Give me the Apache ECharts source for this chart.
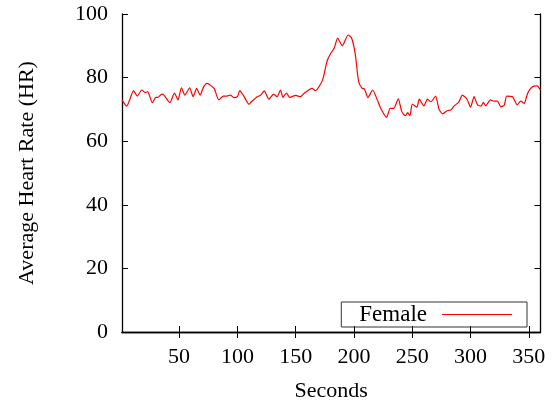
<!DOCTYPE html>
<html>
<head>
<meta charset="utf-8">
<script src="https://cdn.jsdelivr.net/npm/echarts@6/dist/echarts.min.js"></script>
<style>html,body{margin:0;padding:0;background:#fff;}#c{width:556px;height:400px;}</style>
</head>
<body>
<div id="c"></div>
<script>
const seconds = [1,5,11,14,18,21,23,27,30,32,35,37,42,46,49,52,55,59,62,65,68,71,74,80,84,88,91,94,97,100,102,105,110,112,117,120,123,127,131,134,137,139,142,145,150,154,158,164,167,173,177,180,183,186,190,195,198,201,204,207,209,212,216,220,223,228,231,234,238,241,244,246,248,250,254,256,260,263,266,270,273,276,280,283,286,290,293,297,300,303,306,309,311,313,317,320,323,326,329,331,336,340,343,346,349,353,357,360];
const femaleHR = [73,71,75.9,74.2,76.1,75.3,75.6,72.1,73.8,73.8,74.8,74.5,72.1,75.1,73,76.8,74.5,76.8,74,76.6,74.5,77.1,78.2,76.6,73,74.2,74.2,74.5,73.7,74,75.9,74.5,71.6,72.4,74,74.5,75.8,73.2,74.8,74,76.1,73.8,75.1,73.8,74.4,74,75.3,76.6,75.9,79.2,85.3,87.6,89.2,92.4,90,93.4,92.4,87.6,78.7,76.6,76.4,73.7,76.1,73,70.3,67.5,70.3,70.3,73.3,69.3,68,69,68,71.7,70.7,73.2,71.1,73.2,72.4,74.2,70,68.6,69.6,69.8,71.1,72.4,74.5,73.2,70.7,74,71.4,71,72.2,71.1,73,72.6,72.6,70.8,71.4,74.2,74,71.4,72.6,71.9,75.1,77.1,77.4,76.1];
const xTicks = [50,100,150,200,250,300,350];
const seriesName = 'Female';
const xName = 'Seconds';
const yName = 'Average Heart Rate (HR)';

const font = 'Liberation Serif, Times New Roman, serif';
const chart = echarts.init(document.getElementById('c'), null, {renderer:'canvas'});
const axisLineStyle = {color:'#000', width:1.3};
chart.setOption({
  animation:false,
  backgroundColor:'#fff',
  grid:{left:122, right:15.5, top:14, bottom:68, containLabel:false, outerBoundsMode:'none'},
  legend:{
    data:[{name:seriesName, icon:'rect'}], right:29, bottom:73, align:'right',
    itemWidth:70, itemHeight:1,
    borderColor:'#333', borderWidth:1, padding:[1,15,1,18],
    textStyle:{fontFamily:font, fontSize:23, color:'#000', padding:[0,10,0,0]}
  },
  xAxis:[{
    type:'value', min:1, max:360,
    name:xName, nameLocation:'middle', nameGap:48,
    nameTextStyle:{fontFamily:font, fontSize:22, color:'#000'},
    axisLine:{show:true, lineStyle:axisLineStyle},
    axisTick:{show:true, inside:true, length:6, customValues:xTicks, lineStyle:{color:'#000'}},
    axisLabel:{customValues:xTicks, fontFamily:font, fontSize:22, color:'#000', margin:14},
    splitLine:{show:false}
  },{
    type:'value', min:1, max:360, position:'top',
    axisLine:{show:true, lineStyle:axisLineStyle},
    axisTick:{show:true, inside:true, length:6, customValues:xTicks, lineStyle:{color:'#000'}},
    axisLabel:{show:false}, splitLine:{show:false}
  }],
  yAxis:[{
    type:'value', min:0, max:100, interval:20,
    name:yName, nameLocation:'middle', nameGap:84,
    nameTextStyle:{fontFamily:font, fontSize:22, color:'#000'},
    axisLine:{show:true, lineStyle:axisLineStyle},
    axisTick:{show:true, inside:true, length:6, lineStyle:{color:'#000'}},
    axisLabel:{fontFamily:font, fontSize:22, color:'#000', margin:14},
    splitLine:{show:false}
  },{
    type:'value', min:0, max:100, interval:20, position:'right',
    axisLine:{show:true, lineStyle:axisLineStyle},
    axisTick:{show:true, inside:true, length:6, lineStyle:{color:'#000'}},
    axisLabel:{show:false}, splitLine:{show:false}
  }],
  series:[{
    name:seriesName, type:'line', symbol:'none', smooth:0.2,
    xAxisIndex:0, yAxisIndex:0,
    lineStyle:{color:'#ff0000', width:1.2},
    itemStyle:{color:'#ff0000'},
    data:seconds.map((s,i)=>[s, femaleHR[i]])
  }]
});
</script>
</body>
</html>
